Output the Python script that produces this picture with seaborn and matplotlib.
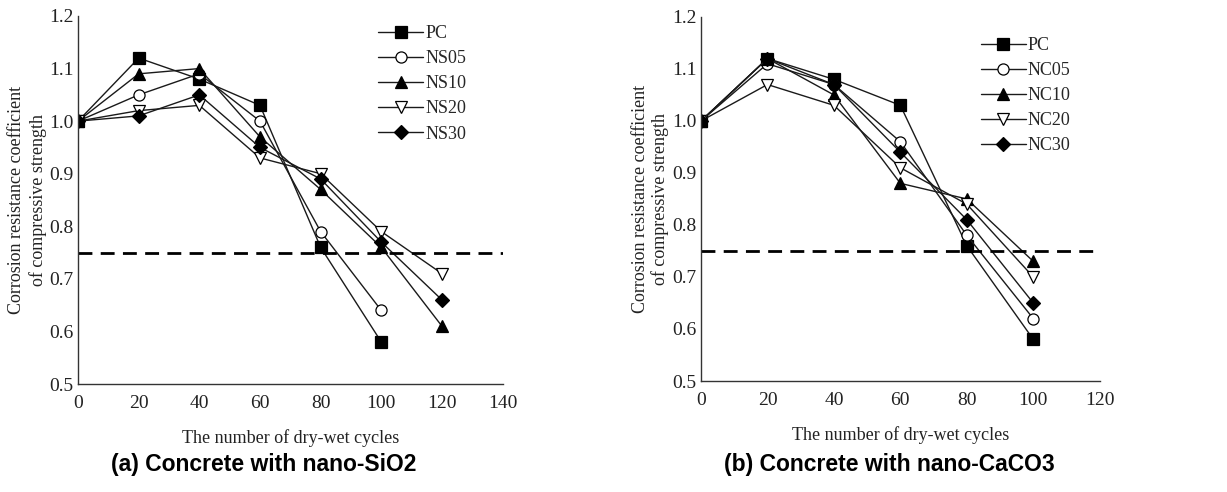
import numpy as np
import pandas as pd
import matplotlib
matplotlib.use('Agg')
import matplotlib.pyplot as plt
import seaborn as sns

sns.set_style('white')
plt.rcParams['font.family'] = ['Liberation Serif', 'DejaVu Serif']

# 데이터
cycles_a = [0, 20, 40, 60, 80, 100, 120]
pc_a = [1.00, 1.12, 1.08, 1.03, 0.76, 0.58]
ns05 = [1.00, 1.05, 1.09, 1.00, 0.79, 0.64]
ns10 = [1.00, 1.09, 1.10, 0.97, 0.87, 0.76, 0.61]
ns20 = [1.00, 1.02, 1.03, 0.93, 0.90, 0.79, 0.71]
ns30 = [1.00, 1.01, 1.05, 0.95, 0.89, 0.77, 0.66]

cycles_b = [0, 20, 40, 60, 80, 100]
pc_b = [1.00, 1.12, 1.08, 1.03, 0.76, 0.58]
nc05 = [1.00, 1.11, 1.07, 0.96, 0.78, 0.62]
nc10 = [1.00, 1.12, 1.05, 0.88, 0.85, 0.73]
nc20 = [1.00, 1.07, 1.03, 0.91, 0.84, 0.70]
nc30 = [1.00, 1.12, 1.07, 0.94, 0.81, 0.65]

threshold = 0.75

labels_a = ['PC', 'NS05', 'NS10', 'NS20', 'NS30']
labels_b = ['PC', 'NC05', 'NC10', 'NC20', 'NC30']
series_a = [pc_a, ns05, ns10, ns20, ns30]
series_b = [pc_b, nc05, nc10, nc20, nc30]

marker_styles = [('s', 'black'), ('o', 'white'), ('^', 'black'), ('v', 'white'), ('D', 'black')]

fig = plt.figure(figsize=(12.27, 4.92), dpi=100)
ax1 = fig.add_axes([0.0636, 0.2195, 0.346, 0.748])
ax2 = fig.add_axes([0.5713, 0.2256, 0.325, 0.740])


def draw(ax, cycles, series, labels, xmax, legend_pos, ylab_x, lsp):
    for vals, lab, (m, fc) in zip(series, labels, marker_styles):
        sns.lineplot(x=cycles[:len(vals)], y=vals, ax=ax, label=lab, color='#1a1a1a',
                     marker=m, markerfacecolor=fc, markeredgecolor='black',
                     markersize=8 if m != 'D' else 7, linewidth=1.0, markeredgewidth=0.9)
    ax.axhline(threshold, color='black', linestyle=(0, (5, 3)), linewidth=2.0)
    ax.set_xlim(0, xmax)
    ax.set_ylim(0.5, 1.2)
    ax.set_xticks(np.arange(0, xmax + 1, 20))
    ax.set_yticks(np.arange(0.5, 1.21, 0.1))
    ax.set_yticklabels([f'{v:.1f}' for v in np.arange(0.5, 1.21, 0.1)])
    ax.tick_params(direction='in', length=4, width=1, labelsize=14, colors='#222222', pad=3)
    ax.tick_params(axis='x', pad=8)
    for s in ['top', 'right']:
        ax.spines[s].set_visible(False)
    for s in ['left', 'bottom']:
        ax.spines[s].set_color('#333333')
        ax.spines[s].set_linewidth(1.0)
    ax.set_xlabel('The number of dry-wet cycles', fontsize=13, labelpad=12, color='#222222')
    ax.set_ylabel('Corrosion resistance coefficient\nof compressive strength', fontsize=13,
                  color='#222222', linespacing=lsp)
    ax.yaxis.set_label_coords(ylab_x, 0.5)
    ax.legend(loc='upper left', bbox_to_anchor=legend_pos, frameon=False, fontsize=13,
              handlelength=2.5, handletextpad=0.1, labelspacing=0.45, borderaxespad=0)


draw(ax1, cycles_a, series_a, labels_a, 140, (0.69, 0.995), -0.072, 1.35)
draw(ax2, cycles_b, series_b, labels_b, 120, (0.683, 0.965), -0.08, 1.15)

fig.text(0.215, 0.055, '(a) Concrete with nano-SiO2', ha='center', va='center', color='black',
         fontsize=16.5, fontweight='bold', family=['Liberation Sans', 'DejaVu Sans'])
fig.text(0.725, 0.055, '(b) Concrete with nano-CaCO3', ha='center', va='center', color='black',
         fontsize=16.5, fontweight='bold', family=['Liberation Sans', 'DejaVu Sans'])

fig.savefig('out.png', dpi=100)
